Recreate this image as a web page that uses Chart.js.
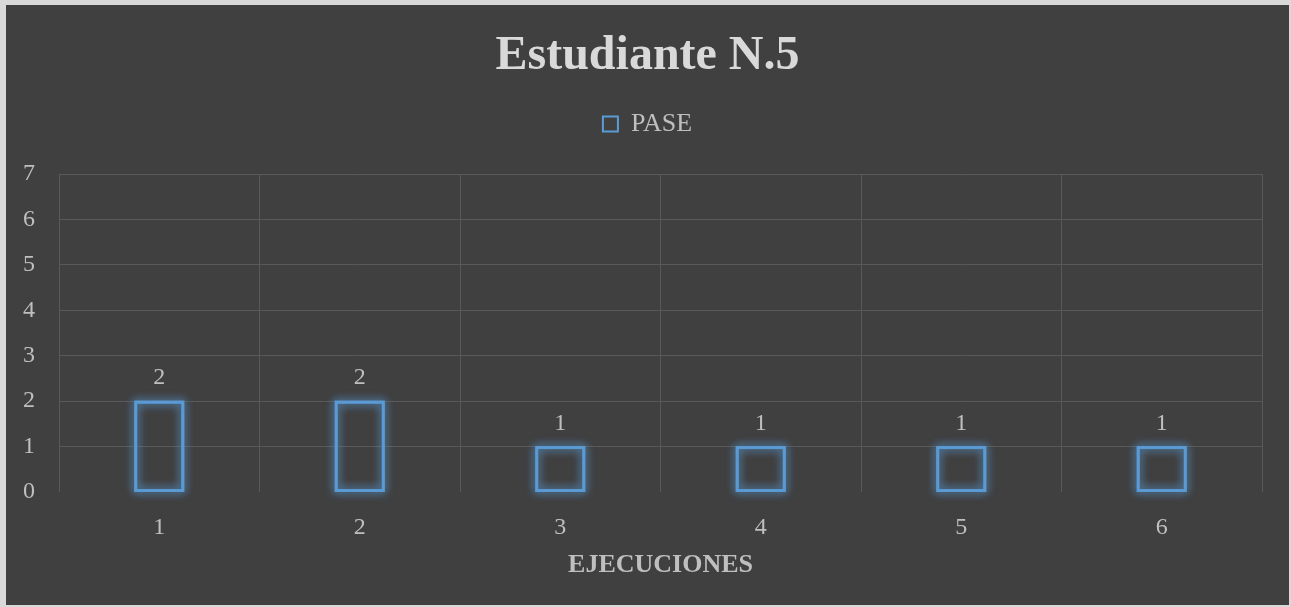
<!DOCTYPE html>
<html>
<head>
<meta charset="utf-8">
<script src="https://cdn.jsdelivr.net/npm/chart.js@4.4.1/dist/chart.umd.min.js"></script>
<style>
  html, body { margin:0; padding:0; background:#d9d9d9; width:1291px; height:607px; overflow:hidden; }
  #wrap { position:absolute; left:6px; top:5px; width:1283px; height:600px; background:#404040; }
</style>
</head>
<body>
<div id="wrap"><canvas id="c" width="1283" height="600"></canvas></div>
<script>
const chartTitle = 'Estudiante N.5';
const categories = ['1', '2', '3', '4', '5', '6'];
const seriesName = 'PASE';
const paseValues = [2, 2, 1, 1, 1, 1];
const yTicks = [0, 1, 2, 3, 4, 5, 6, 7];
const xAxisTitle = 'EJECUCIONES';

const FONT = "'Liberation Serif', 'Times New Roman', serif";
const BLUE = '#5b9bd5';
const GRID = '#595959';
const TEXT = '#bfbfbf';

const legendGap = {
  id: 'legendGap',
  afterInit(chart) {
    const lg = chart.legend;
    if (lg && !lg._patched) {
      const orig = lg.fit;
      lg.fit = function () { orig.call(this); this.height += 27; };
      lg._patched = true;
    }
  }
};

const glow = {
  id: 'glow',
  beforeDatasetsDraw(chart) {
    const ctx = chart.ctx;
    chart.getSortedVisibleDatasetMetas().forEach(meta => {
      meta.data.forEach(bar => {
        const p = bar.getProps(['x', 'y', 'base', 'width'], true);
        for (let k = 0; k < 2; k++) {
          ctx.save();
          ctx.shadowColor = 'rgba(91,155,213,1)';
          ctx.shadowBlur = 10;
          ctx.strokeStyle = 'rgba(91,155,213,0.75)';
          ctx.lineWidth = 3;
          ctx.strokeRect(p.x - p.width / 2 + 1, Math.min(p.y, p.base) + 1, p.width - 2, Math.abs(p.base - p.y) - 2);
          ctx.restore();
        }
      });
    });
  },
  afterDatasetsDraw(chart) {
    const ctx = chart.ctx;
    chart.getSortedVisibleDatasetMetas().forEach(meta => {
      const ds = chart.data.datasets[meta.index];
      meta.data.forEach((bar, i) => {
        const p = bar.getProps(['x', 'y'], true);
        ctx.save();
        ctx.fillStyle = TEXT;
        ctx.font = '24px ' + FONT;
        ctx.textAlign = 'center';
        ctx.textBaseline = 'middle';
        ctx.fillText(String(ds.data[i]), p.x, p.y - 23);
        ctx.restore();
      });
    });
  }
};

new Chart(document.getElementById('c'), {
  type: 'bar',
  data: {
    labels: categories,
    datasets: [{
      label: seriesName,
      data: paseValues,
      backgroundColor: 'rgba(0,0,0,0)',
      borderColor: BLUE,
      borderWidth: 2,
      borderSkipped: false,
      barPercentage: 0.245,
      categoryPercentage: 1.0,
      yAxisID: 'y'
    }]
  },
  plugins: [legendGap, glow],
  options: {
    responsive: false,
    animation: false,
    devicePixelRatio: 1,
    layout: { padding: 0 },
    plugins: {
      title: {
        display: true,
        text: chartTitle,
        color: '#d9d9d9',
        font: { family: FONT, size: 48, weight: 'bold' },
        padding: { top: 23.2, bottom: 15.2 }
      },
      legend: {
        display: true,
        position: 'top',
        labels: {
          color: TEXT,
          font: { family: FONT, size: 26 },
          boxWidth: 15,
          boxHeight: 15,
          padding: 10
        }
      },
      tooltip: { enabled: false }
    },
    scales: {
      x: {
        grid: { color: GRID, drawTicks: false, offset: true },
        border: { display: false },
        ticks: { color: TEXT, font: { family: FONT, size: 24 }, padding: 21.5 },
        title: {
          display: true,
          text: xAxisTitle,
          color: TEXT,
          font: { family: FONT, size: 26, weight: 'bold' },
          padding: { top: 0, bottom: 24 }
        },
        afterFit(scale) { scale.height = 113; }
      },
      y: {
        min: yTicks[0],
        max: yTicks[yTicks.length - 1],
        afterBuildTicks(scale) { scale.ticks = yTicks.map(v => ({ value: v })); },
        grid: {
          color: ctx => (ctx.tick && ctx.tick.value === 0) ? 'rgba(0,0,0,0)' : GRID,
          drawTicks: false
        },
        border: { display: false },
        ticks: { color: TEXT, font: { family: FONT, size: 24 }, padding: 24, stepSize: 1 },
        afterFit(scale) { scale.width = 53; }
      },
      yRight: {
        type: 'linear',
        position: 'right',
        display: true,
        min: 0,
        max: 7,
        grid: { display: false, drawTicks: false },
        border: { display: false },
        ticks: { display: false },
        afterFit(scale) { scale.width = 27; }
      }
    }
  }
});
</script>
</body>
</html>
